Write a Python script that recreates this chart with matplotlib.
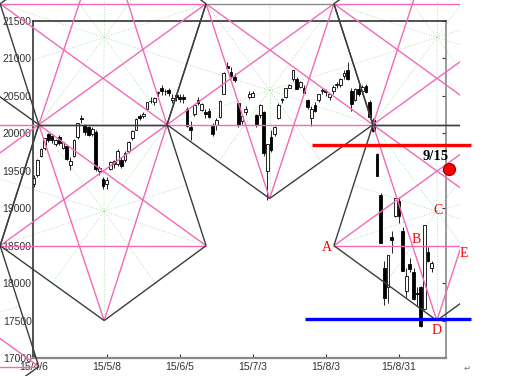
import matplotlib
matplotlib.use("Agg")
import matplotlib.pyplot as plt
from matplotlib.patches import Rectangle

# Nikkei 225 daily candles, 2015/4/6 .. 2015/9/11 (trading day index 0..109)
opens = [19320, 19440, 19700, 19810, 19990, 19960, 19860, 19950, 19810, 19830,
         19580, 19700, 19950, 20200, 20110, 20080, 19990, 20020, 19500, 19390,
         19330, 19530, 19590, 19590, 19640, 19640, 19760, 19940, 20050, 20230,
         20230, 20320, 20430, 20420, 20540, 20610, 20560, 20580, 20450, 20510,
         20490, 20480, 20330, 20080, 20260, 20440, 20310, 20290, 20300, 20100,
         20110, 20220, 20530, 20900, 20820, 20750, 20410, 20160, 20280, 20480,
         20490, 20240, 20250, 20290, 19500, 19950, 19990, 20210, 20440, 20490,
         20610, 20720, 20730, 20620, 20600, 20450, 20200, 20380, 20450, 20560,
         20570, 20490, 20560, 20640, 20650, 20760, 20850, 20570, 20450, 20590,
         20560, 20630, 20420, 20180, 19730, 19170, 18200, 17950, 18620, 18890,
         19100, 18700, 17900, 18260, 18150, 17870, 17950, 17650, 18420, 18200]
highs = [19440, 19660, 19810, 19940, 20006, 19980, 19920, 19980, 19890, 19850,
         19680, 19930, 20140, 20250, 20120, 20100, 20080, 20040, 19560, 19420,
         19420, 19630, 19650, 19790, 19690, 19760, 19900, 20040, 20200, 20260,
         20290, 20420, 20480, 20490, 20560, 20650, 20590, 20600, 20520, 20530,
         20520, 20530, 20350, 20160, 20390, 20480, 20400, 20320, 20340, 20140,
         20210, 20450, 20820, 20952, 20890, 20800, 20420, 20260, 20360, 20560,
         20560, 20260, 20390, 20300, 19860, 20050, 20100, 20400, 20470, 20610,
         20660, 20850, 20750, 20700, 20650, 20460, 20360, 20420, 20530, 20600,
         20590, 20540, 20640, 20690, 20740, 20840, 20947, 20600, 20610, 20660,
         20640, 20660, 20440, 20200, 19740, 19200, 18300, 18380, 18700, 19140,
         19150, 18750, 18200, 18330, 18200, 17950, 17960, 18770, 18480, 18300]
lows = [19280, 19420, 19690, 19780, 19880, 19870, 19830, 19850, 19790, 19640,
        19510, 19690, 19930, 20140, 19980, 19960, 19960, 19500, 19440, 19260,
        19260, 19510, 19540, 19570, 19540, 19620, 19740, 19910, 20040, 20180,
        20200, 20310, 20400, 20380, 20480, 20510, 20510, 20500, 20400, 20430,
        20420, 20400, 20090, 19910, 20230, 20380, 20300, 20200, 20200, 19960,
        20050, 20200, 20520, 20840, 20740, 20680, 20090, 20130, 20250, 20460,
        20480, 20080, 20200, 19700, 19115, 19750, 19970, 20190, 20400, 20470,
        20600, 20700, 20590, 20600, 20540, 20320, 20100, 20280, 20420, 20520,
        20500, 20450, 20530, 20600, 20620, 20720, 20710, 20300, 20430, 20500,
        20520, 20540, 20190, 20020, 19430, 18540, 17714, 17740, 18400, 18880,
        18800, 18160, 17820, 18150, 17780, 17700, 17415, 17640, 18280, 18150]
closes = [19398, 19641, 19790, 19938, 19908, 19905, 19909, 19870, 19886, 19653,
          19634, 19909, 20134, 20188, 20020, 19983, 20059, 19520, 19532, 19292,
          19379, 19621, 19625, 19765, 19570, 19733, 19890, 20026, 20197, 20203,
          20264, 20414, 20437, 20473, 20551, 20563, 20570, 20543, 20474, 20488,
          20461, 20457, 20096, 20046, 20383, 20407, 20388, 20258, 20219, 19991,
          20174, 20428, 20809, 20868, 20771, 20706, 20110, 20236, 20329, 20523,
          20540, 20112, 20377, 19738, 19856, 19780, 20090, 20385, 20463, 20600,
          20651, 20842, 20594, 20684, 20545, 20350, 20329, 20303, 20523, 20585,
          20548, 20520, 20614, 20664, 20725, 20809, 20721, 20393, 20596, 20519,
          20620, 20554, 20223, 20034, 19436, 18541, 17807, 18377, 18574, 19136,
          18890, 18166, 18095, 18182, 17792, 17860, 17427, 18771, 18300, 18264]

tick_days = [0, 20, 40, 60, 80, 100]
tick_labels = ["15/4/6", "15/5/8", "15/6/5", "15/7/3", "15/8/3", "15/8/31"]
price_ticks = [17000, 17500, 18000, 18500, 19000, 19500, 20000, 20500, 21000, 21500]

# drawn geometry: vertices (trading day, price)
node_name = ["C0", "C1", "C2", "C3", "C4", "LL", "L", "R", "A", "E",
             "LT", "T1", "T2", "ET", "B1", "D", "B1u", "Du", "M", "Mf", "Q0", "Q", "Mb"]
node_day = [-55.0, 1.4, 36.5, 92.9, 128.0, -44.3, -9.2, 47.2, 82.2, 138.7,
            -9.2, 47.2, 82.2, 138.7, 19.3, 110.4, 19.3, 110.4, 64.6, -26.8, -55.0, 1.4, -26.8]
node_price = [20115, 20115, 20115, 20115, 20115, 18500, 18500, 18500, 18500, 18500,
              21730, 21730, 21730, 21730, 17500, 17500, 22730, 22730, 19130, 21100, 16885, 16885, 15900]
nodes = {n: (d, p) for n, d, p in zip(node_name, node_day, node_price)}

# cells: (mid-left, mid-right, side1, side2, apex)
p_cells = [("C1", "C2", "L", "R", "B1"), ("C1", "C2", "LT", "T1", "B1u"),
           ("C3", "C4", "A", "E", "D"), ("C3", "C4", "T2", "ET", "Du")]
p_centers = [(19.3, 18960), (19.3, 21280), (110.4, 18960), (110.4, 21280)]
m_cells = [("C2", "C3", "T1", "T2", "M"), ("C0", "C1", "LL", "L", "Mf"), ("Q0", "Q", "LL", "L", "Mb")]
m_centers = [(64.6, 20575), (-26.8, 19655), (-26.8, 17345)]

red_line = (76.2, 119.7, 19850)
blue_line = (74.3, 119.7, 17520)
target_day, target_price = 113.7, 19518

labels = ["A", "B", "C", "D", "E"]
label_day = [80.3, 104.7, 110.7, 110.4, 117.8]
label_price = [18473, 18580, 18968, 17362, 18393]

PINK = "#f26ab6"
DARK = "#3c3c3c"
DOT = "#9ad89a"

fig = plt.figure(figsize=(5.15, 3.76), dpi=100)
ax = fig.add_axes([33 / 515, 18 / 376, 413 / 515, 337 / 376])
clip_rect = Rectangle((0, 0), 460 / 515, 1, transform=fig.transFigure)


def seg(a, b, color, lw=1.0, ls="-", z=3):
    p, q = nodes[a] if isinstance(a, str) else a, nodes[b] if isinstance(b, str) else b
    ln, = ax.plot([p[0], q[0]], [p[1], q[1]], color=color, lw=lw, ls=ls, zorder=z,
                  solid_capstyle="butt")
    ln.set_clip_path(clip_rect)


def mid(a, b):
    return ((nodes[a][0] + nodes[b][0]) / 2, (nodes[a][1] + nodes[b][1]) / 2)


# dotted radials
for cells, centers, kind in [(p_cells, p_centers, "p"), (m_cells, m_centers, "m")]:
    for (ca, cb, s1, s2, ap), c in zip(cells, centers):
        if kind == "p":
            edges = [(ca, s1), (s1, ap), (ap, s2), (s2, cb), (cb, ca)]
        else:
            edges = [(ca, s1), (s1, s2), (s2, cb), (cb, ap), (ap, ca)]
        for v in (ca, cb, s1, s2, ap):
            seg(c, v, DOT, 0.6, (0, (1, 2)), 1.5)
        for e in edges:
            seg(c, mid(*e), DOT, 0.6, (0, (1, 2)), 1.5)

# candles
for i in range(len(closes)):
    o, h, l, c = opens[i], highs[i], lows[i], closes[i]
    ax.vlines(i, l, h, color="black", lw=0.6, zorder=2)
    up = c >= o
    ax.bar(i, max(abs(c - o), 8), bottom=min(o, c), width=0.75,
           color="white" if up else "black", edgecolor="black", lw=0.6, zorder=2.2)

# pentagon cells
for ca, cb, s1, s2, ap in p_cells:
    for a, b in [(s1, s2), (s1, cb), (s2, ca), (ap, ca), (ap, cb)]:
        seg(a, b, PINK, 1.0, z=3)
    for a, b in [(ca, cb), (ca, s1), (s1, ap), (ap, s2), (s2, cb)]:
        seg(a, b, DARK, 1.0, z=3.5)

# wide cells
for ca, cb, s1, s2, ap in m_cells:
    for a, b in [(ca, cb), (s1, ap), (s2, ap), (s1, cb), (s2, ca)]:
        seg(a, b, PINK, 1.0, z=3)
    for a, b in [(ca, s1), (s2, cb), (ca, ap), (ap, cb)]:
        seg(a, b, DARK, 1.0, z=3.5)
    seg(s1, s2, "#8a8a8a", 1.0, z=3.4)

ax.plot(red_line[:2], [red_line[2]] * 2, color="#ff0000", lw=2.4, zorder=4,
        clip_on=False, solid_capstyle="butt")
ax.plot(blue_line[:2], [blue_line[2]] * 2, color="#0000ff", lw=2.4, zorder=4,
        clip_on=False, solid_capstyle="butt")
ax.plot([target_day], [target_price], "o", color="#ff0000", markeredgecolor="#b00000",
        markersize=8.5, zorder=5, clip_on=False)
ax.text(target_day - 3.6, target_price + 175, "9/15", fontsize=10.5, fontweight="bold",
        family="Liberation Serif", ha="center", va="center", zorder=6, clip_on=False)
for t, d, p in zip(labels, label_day, label_price):
    ax.text(d, p, t, color="#ff0000", fontsize=10, family="Liberation Serif",
            ha="center", va="center", zorder=6, clip_on=False)

ax.set_xlim(-0.2, 112.9)
ax.set_ylim(17000, 21500)
ax.set_xticks(tick_days)
ax.set_xticklabels(tick_labels)
ax.set_yticks(price_ticks)
ax.set_yticklabels([str(v) for v in price_ticks])
ax.tick_params(axis="x", direction="in", length=3, labelsize=7.5, colors="#333333", pad=3)
ax.tick_params(axis="y", left=False, right=True, direction="in", length=3,
               labelsize=7.5, colors="#333333", pad=1)
for lbl in ax.get_xticklabels() + ax.get_yticklabels():
    lbl.set_family("Liberation Sans")
ax.spines["left"].set_color("#333333")
ax.spines["top"].set_color("#333333")
ax.spines["right"].set_color("#888888")
ax.spines["bottom"].set_color("#888888")
for s in ax.spines.values():
    s.set_linewidth(1.2)
ax.spines["bottom"].set_linewidth(1.6)
fig.text(467 / 515, 3 / 376, "\u21b5", fontsize=6, color="#777777", ha="center", va="bottom")

fig.savefig("out.png", dpi=100)
